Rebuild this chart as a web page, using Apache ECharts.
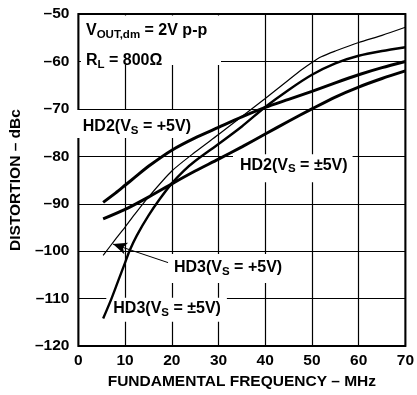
<!DOCTYPE html>
<html><head><meta charset="utf-8">
<script src="https://cdn.jsdelivr.net/npm/echarts@6/dist/echarts.min.js"></script>
<style>html,body{margin:0;padding:0;background:#fff}#c{width:417px;height:395px}</style>
</head><body><div id="c"></div>
<script>
// ---- data ----
const xMin = 0, xMax = 70, xStep = 10;
const yMin = -120, yMax = -50, yStep = 10;

// HD2 (VS = +5V)
const hd2SingleF  = [5.3, 8, 10, 12, 15, 20, 25, 30, 35, 40, 45, 50, 55, 60, 65, 70];
const hd2SingleDb = [-89.7, -87.7, -86.1, -84.5, -82.1, -78.7, -76.1, -73.9, -71.7, -69.7, -68.0, -66.3, -64.5, -62.8, -61.3, -60.0];
// HD2 (VS = ±5V)
const hd2DualF  = [5.3, 10, 15, 20, 25, 30, 35, 40, 45, 50, 55, 60, 65, 70];
const hd2DualDb = [-93.2, -91.2, -88.6, -85.8, -83.1, -80.6, -78.0, -75.3, -72.6, -70.0, -67.5, -65.4, -63.6, -62.0];
// HD3 (VS = +5V)
const hd3SingleF  = [5.3, 8, 10, 12, 15, 20, 25, 30, 35, 40, 45, 48, 50, 52, 55, 60, 65, 70];
const hd3SingleDb = [-100.9, -97.4, -94.9, -92.3, -88.6, -83.1, -79.1, -75.4, -71.6, -67.8, -63.9, -61.6, -60.2, -59.0, -57.8, -56.0, -54.5, -52.8];
// HD3 (VS = ±5V)
const hd3DualF  = [5.3, 7, 8.5, 10, 11, 12.5, 15, 17.5, 20, 22.5, 25, 30, 35, 40, 45, 50, 55, 60, 65, 70];
const hd3DualDb = [-114.2, -110.2, -106.3, -102.4, -99.8, -96.7, -92.5, -88.9, -85.7, -83.1, -81.0, -77.4, -73.7, -69.6, -66.0, -62.8, -60.4, -58.8, -57.8, -57.0];

// arrow (data coordinates) from HD3(+5V) label to its curve
const arrowFrom = [19.2, -102.4];
const arrowTo   = [7.4, -98.5];

// texts
const xTitle = 'FUNDAMENTAL FREQUENCY – MHz';
const yTitle = 'DISTORTION – dBc';
const noteVout = ['V', 'OUT,dm', ' = 2V p-p'];
const noteRl   = ['R', 'L', ' = 800Ω'];
const lblHd2Single = ['HD2(V', 'S', ' = +5V)'];
const lblHd2Dual   = ['HD2(V', 'S', ' = ±5V)'];
const lblHd3Single = ['HD3(V', 'S', ' = +5V)'];
const lblHd3Dual   = ['HD3(V', 'S', ' = ±5V)'];

// ---- chart ----
const FF = '"Liberation Sans", Arial, Helvetica, sans-serif';
const pair = (xs, ys) => xs.map((x, i) => [x, ys[i]]);
const rich = {
  b: { fontSize: 16, fontWeight: 'bold', fontFamily: FF, fill: '#000', color: '#000', lineHeight: 22 },
  s: { fontSize: 11.5, fontWeight: 'bold', fontFamily: FF, fill: '#000', color: '#000', lineHeight: 14, padding: [8, 0, 0, 0] }
};
const richText = p => '{b|' + p[0] + '}{s|' + p[1] + '}{b|' + p[2] + '}';
function textEl(parts, x, y, pad, bg) {
  return {
    type: 'text', x: x, y: y, z: 1,
    style: {
      text: richText(parts), rich: rich,
      font: 'bold 16px ' + FF, fill: '#000',
      align: 'left', textAlign: 'left', verticalAlign: 'top', textVerticalAlign: 'top',
      backgroundColor: bg ? '#fff' : null, padding: pad
    }
  };
}

const chart = echarts.init(document.getElementById('c'), null, { renderer: 'canvas' });
const lineSeries = (name, data, w) => ({
  name: name, type: 'line', data: data, smooth: 0.25, showSymbol: false, symbol: 'none',
  lineStyle: { color: '#000', width: w }, z: 3, animation: false
});

chart.setOption({
  backgroundColor: '#fff',
  animation: false,
  grid: { left: 72.7, right: 7.7, top: 14, bottom: 45.7, show: true, borderColor: '#000', borderWidth: 2, backgroundColor: 'transparent' },
  xAxis: {
    type: 'value', min: xMin, max: xMax, interval: xStep,
    axisLine: { show: false }, axisTick: { show: false },
    splitLine: { show: true, lineStyle: { color: '#000', width: 1.2 } },
    axisLabel: { color: '#000', fontSize: 15.5, fontWeight: 'bold', fontFamily: FF, margin: 7 },
    name: xTitle, nameLocation: 'middle', nameGap: 26,
    nameTextStyle: { color: '#000', fontSize: 15.5, fontWeight: 'bold', fontFamily: FF }
  },
  yAxis: {
    type: 'value', min: yMin, max: yMax, interval: yStep,
    axisLine: { show: false }, axisTick: { show: false },
    splitLine: { show: true, lineStyle: { color: '#000', width: 1.2 } },
    axisLabel: { color: '#000', fontSize: 15.5, fontWeight: 'bold', fontFamily: FF, margin: 9,
      formatter: v => (v < 0 ? '–' + Math.abs(v) : String(v)) },
    name: yTitle, nameLocation: 'middle', nameGap: 48, nameRotate: 90,
    nameTextStyle: { color: '#000', fontSize: 15.5, fontWeight: 'bold', fontFamily: FF }
  },
  graphic: [
    { type: 'rect', z: 1, shape: { x: 81, y: 15.5, width: 140, height: 49.5 }, style: { fill: '#fff' } },
    textEl(noteVout, 86, 19.5, 0, false),
    textEl(noteRl, 86, 49.5, 0, false),
    textEl(lblHd2Single, 73.8, 110, [6, 5, 0, 9], true),
    textEl(lblHd2Dual, 233, 154.3, [0, 5, 6, 7], true),
    textEl(lblHd3Single, 168, 254, [3, 5, 4, 6], true),
    textEl(lblHd3Dual, 106.3, 297.7, [0, 6, 2, 7], true)
  ],
  series: [
    lineSeries('HD2 +5V', pair(hd2SingleF, hd2SingleDb), 3),
    lineSeries('HD2 ±5V', pair(hd2DualF, hd2DualDb), 3),
    Object.assign(lineSeries('HD3 +5V', pair(hd3SingleF, hd3SingleDb), 1.2), {
      markLine: {
        silent: true, animation: false, symbol: ['none', 'arrow'], symbolSize: [9, 14],
        lineStyle: { color: '#000', width: 1, type: 'solid' }, label: { show: false },
        data: [[{ coord: arrowFrom }, { coord: arrowTo }]]
      }
    }),
    lineSeries('HD3 ±5V', pair(hd3DualF, hd3DualDb), 2.4)
  ]
});
</script>
</body></html>
